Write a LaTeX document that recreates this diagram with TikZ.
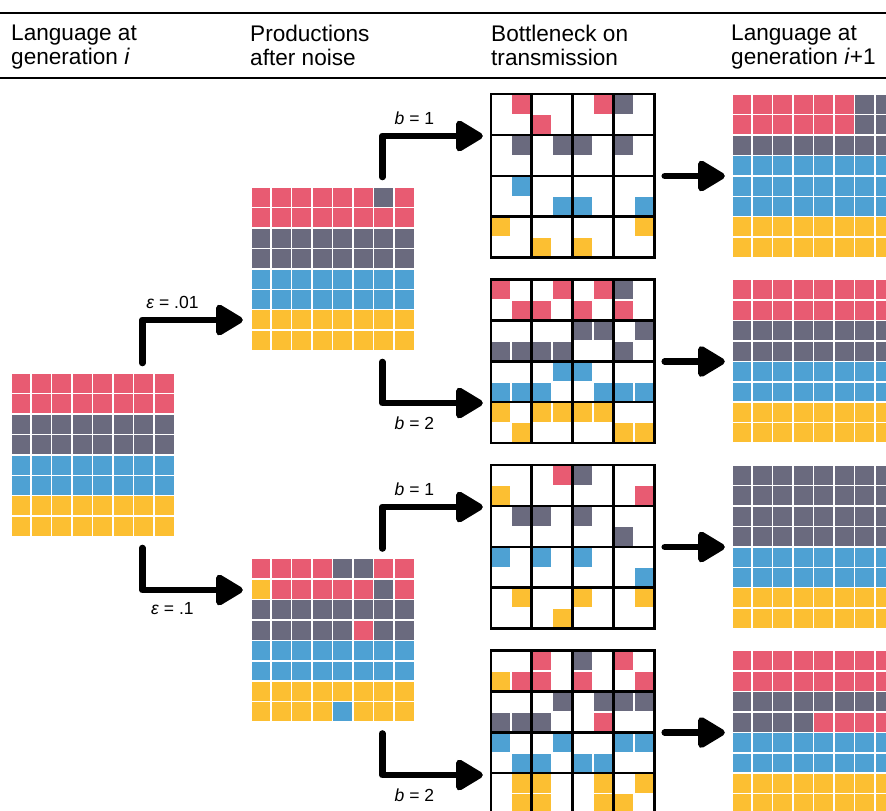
\documentclass[tikz,border=0pt]{standalone}
\usepackage{fontspec}
\setmainfont{Liberation Sans}
\usetikzlibrary{arrows.meta}

\definecolor{R}{RGB}{232,91,114}
\definecolor{G}{RGB}{106,106,126}
\definecolor{B}{RGB}{78,161,211}
\definecolor{Y}{RGB}{252,191,50}

\def\cs{20.44}

% one colour per row, eight cells each
\newcommand{\gridbands}[2]{%
  \begin{scope}[shift={(#1.north west)}]
    \foreach \col [count=\ri from 0] in {#2}
      \foreach \ci in {0,...,7}
        \filldraw[cell,fill=\col] (\ci*\cs,\ri*\cs) rectangle ++(\cs,\cs);
  \end{scope}}
% single cells as column/row/colour
\newcommand{\gridcells}[2]{%
  \begin{scope}[shift={(#1.north west)}]
    \foreach \ci/\ri/\col in {#2}
      \filldraw[cell,fill=\col] (\ci*\cs,\ri*\cs) rectangle ++(\cs,\cs);
  \end{scope}}
% thick lines round each 2x2 block
\newcommand{\gridblocks}[1]{%
  \begin{scope}[shift={(#1.north west)}]
    \foreach \i in {0,2,4,6,8} {
      \draw[block] (\i*\cs,0) -- (\i*\cs,8*\cs);
      \draw[block] (0,\i*\cs) -- (8*\cs,\i*\cs);
    }
  \end{scope}}

\begin{document}
\begin{tikzpicture}[x=1pt,y=-1pt]
    \tikzstyle{lattice}=[rectangle,minimum size=163.5pt,inner sep=0pt]
    \tikzstyle{cell}=[draw=white,line width=1.5pt]
    \tikzstyle{block}=[draw=black,line width=2.6pt,line cap=rect]
    \tikzstyle{flow}=[line width=6.5pt,line cap=round,line join=round,-{Triangle[length=30pt,width=34pt,round]}]
    \tikzstyle{annot}=[font=\fontsize{22.6}{23.5}\selectfont,align=left,anchor=north west,inner sep=0pt]
    \tikzstyle{param}=[font=\fontsize{17.5}{20}\selectfont,inner sep=0pt]

    \useasboundingbox (0,0) rectangle (886,811);
    \clip (0,0) rectangle (886,811);

    % Header
    \draw[line width=2pt] (0,12.5) -- (886,12.5);
    \draw[line width=2pt] (0,78) -- (886,78);
    \node[annot] (h-1) at (11,25) {Language at\\generation \textit{i}};
    \node[annot] (h-2) at (250,25) {Productions\\after noise};
    \node[annot] (h-3) at (491,25) {Bottleneck on\\transmission};
    \node[annot] (h-4) at (731,25) {Language at\\generation \textit{i}+1};

    % Draw the grids
    \path node[lattice] (L-1) at (92.75,455) {};
    \path node[lattice] (P-1) at (332.75,269) {};
    \path node[lattice] (P-2) at (332.75,640.5) {};
    \foreach \name / \y in {1/176,2/361.5,3/547,4/732.5} {
      \path node[lattice] (B-\name) at (572.75,\y) {};
      \path node[lattice] (N-\name) at (813.75,\y) {};
    }

    % Language at generation i
    \gridbands{L-1}{R,R,G,G,B,B,Y,Y}

    % Productions after noise
    \gridbands{P-1}{R,R,G,G,B,B,Y,Y}
    \gridcells{P-1}{6/0/G}
    \gridbands{P-2}{R,R,G,G,B,B,Y,Y}
    \gridcells{P-2}{4/0/G,5/0/G,0/1/Y,6/1/G,5/3/R,4/7/B}

    % Bottleneck on transmission
    \gridcells{B-1}{1/0/R,5/0/R,6/0/G,2/1/R,1/2/G,3/2/G,4/2/G,6/2/G,
      1/4/B,3/5/B,4/5/B,7/5/B,0/6/Y,7/6/Y,2/7/Y,4/7/Y}
    \gridcells{B-2}{0/0/R,3/0/R,5/0/R,6/0/G,1/1/R,2/1/R,4/1/R,6/1/R,
      4/2/G,5/2/G,7/2/G,0/3/G,1/3/G,2/3/G,3/3/G,6/3/G,
      3/4/B,4/4/B,0/5/B,1/5/B,2/5/B,5/5/B,6/5/B,7/5/B,
      0/6/Y,2/6/Y,3/6/Y,4/6/Y,5/6/Y,1/7/Y,6/7/Y,7/7/Y}
    \gridcells{B-3}{3/0/R,4/0/G,0/1/Y,7/1/R,1/2/G,2/2/G,4/2/G,6/3/G,
      0/4/B,2/4/B,4/4/B,7/5/B,1/6/Y,4/6/Y,7/6/Y,3/7/Y}
    \gridcells{B-4}{2/0/R,4/0/G,6/0/R,0/1/Y,1/1/R,2/1/R,4/1/R,7/1/R,
      3/2/G,5/2/G,6/2/G,7/2/G,0/3/G,1/3/G,2/3/G,5/3/R,
      0/4/B,3/4/B,6/4/B,7/4/B,1/5/B,2/5/B,4/5/B,5/5/B,
      1/6/Y,2/6/Y,5/6/Y,7/6/Y,1/7/Y,2/7/Y,5/7/Y,6/7/Y}
    \foreach \name in {1,...,4} {\gridblocks{B-\name}}

    % Language at generation i+1
    \gridbands{N-1}{R,R,G,B,B,B,Y,Y}
    \gridcells{N-1}{6/0/G,7/0/G,6/1/G,7/1/G}
    \gridbands{N-2}{R,R,G,G,B,B,Y,Y}
    \gridbands{N-3}{G,G,G,G,B,B,Y,Y}
    \gridbands{N-4}{R,R,G,G,B,B,Y,Y}
    \gridcells{N-4}{4/3/R,5/3/R,6/3/R,7/3/R}

    % Noise
    \draw[flow] ([xshift=49.5pt,yshift=10pt]L-1.north) |- ([xshift=-8pt,yshift=-51pt]P-1.west)
      node[param,pos=0.65,above=8pt] (e-1) {\textit{ε} = .01};
    \draw[flow] ([xshift=49.5pt,yshift=-11pt]L-1.south) |- ([xshift=-8pt,yshift=50.5pt]P-2.west)
      node[param,pos=0.65,below=9pt] (e-2) {\textit{ε} = .1};

    % Bottleneck
    \draw[flow] ([xshift=49.5pt,yshift=10pt]P-1.north) |- ([xshift=-8pt,yshift=40pt]B-1.west)
      node[param,pos=0.66,above=8pt] (b-1) {\textit{b} = 1};
    \draw[flow] ([xshift=49.5pt,yshift=-11pt]P-1.south) |- ([xshift=-8pt,yshift=-41.5pt]B-2.west)
      node[param,pos=0.66,below=11pt] (b-2) {\textit{b} = 2};
    \draw[flow] ([xshift=49.5pt,yshift=10pt]P-2.north) |- ([xshift=-8pt,yshift=40pt]B-3.west)
      node[param,pos=0.66,above=8pt] (b-3) {\textit{b} = 1};
    \draw[flow] ([xshift=49.5pt,yshift=-11pt]P-2.south) |- ([xshift=-8pt,yshift=-42.5pt]B-4.west)
      node[param,pos=0.66,below=11pt] (b-4) {\textit{b} = 2};

    % Learning
    \foreach \name in {1,...,4}
      \draw[flow] ([xshift=10pt]B-\name.east) -- ([xshift=-7pt]N-\name.west);
\end{tikzpicture}
\end{document}
